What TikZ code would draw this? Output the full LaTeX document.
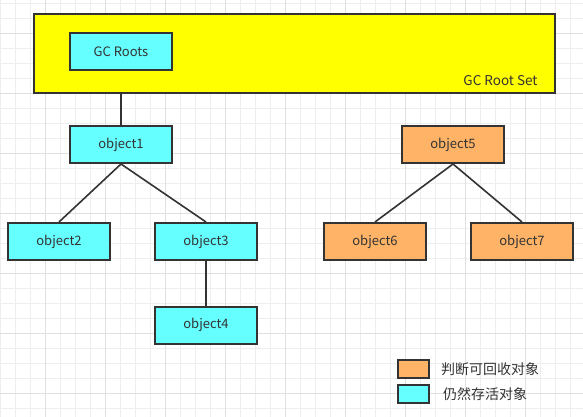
\documentclass[tikz,border=0pt]{standalone}
\usepackage{fontspec}
\setmainfont{Noto Sans CJK SC}
\usepackage{tikz}
\definecolor{edgegray}{HTML}{333333}
\definecolor{alivecyan}{HTML}{66FFFF}
\definecolor{deadorange}{HTML}{FFB366}
\definecolor{setyellow}{HTML}{FFFF00}
\definecolor{gridlight}{HTML}{EEEEEE}
\definecolor{griddark}{HTML}{E0E0E0}
\begin{document}
\begin{tikzpicture}[x=1pt,y=-1pt,
    obj/.style={draw=edgegray,line width=2pt,minimum width=102pt,minimum height=37pt,
      inner sep=0pt,text=edgegray,font=\fontsize{13}{15}\selectfont},
    alive/.style={obj,fill=alivecyan},
    dead/.style={obj,fill=deadorange},
    link/.style={draw=edgegray,line width=1.6pt},
    legendbox/.style={draw=edgegray,line width=2pt,minimum width=31pt,minimum height=18pt,inner sep=0pt},
    legendtext/.style={anchor=west,inner sep=0pt,text=edgegray,font=\fontsize{14}{16}\selectfont}]
  \useasboundingbox (0,0) rectangle (583,417);
  \fill[white] (0,0) rectangle (583,417);
  \foreach \x in {0,15,...,585} \draw[gridlight,line width=1pt] (\x+0.3,0) -- (\x+0.3,417);
  \foreach \y in {3,18,...,417} \draw[gridlight,line width=1pt] (0,\y+0.3) -- (583,\y+0.3);
  \foreach \x in {45,105,...,585} \draw[griddark,line width=1pt] (\x+0.3,0) -- (\x+0.3,417);
  \foreach \y in {33,93,...,417} \draw[griddark,line width=1pt] (0,\y+0.3) -- (583,\y+0.3);
  \node[draw=edgegray,line width=2pt,fill=setyellow,minimum width=520.5pt,minimum height=79.5pt,inner sep=0pt]
    (rootset) at (294.25,53.75) {};
  \node[alive] (roots) at (121,51.5) {GC Roots};
  \node[anchor=center,inner sep=0pt,text=edgegray,font=\fontsize{13.5}{15}\selectfont]
    (setlabel) at (500.5,81) {GC Root Set};
  \node[alive] (obj1) at (121,144.5) {object1};
  \node[alive] (obj2) at (59,241.5) {object2};
  \node[alive] (obj3) at (206,241.5) {object3};
  \node[alive] (obj4) at (206,325) {object4};
  \node[dead] (obj5) at (453,144.5) {object5};
  \node[dead] (obj6) at (375,241.5) {object6};
  \node[dead] (obj7) at (522,241.5) {object7};
  \draw[link] (obj1.north |- rootset.south) -- (obj1.north);
  \draw[link] (obj1.south) -- (obj2.north);
  \draw[link] (obj1.south) -- (obj3.north);
  \draw[link] (obj3.south) -- (obj4.north);
  \draw[link] (obj5.south) -- (obj6.north);
  \draw[link] (obj5.south) -- (obj7.north);
  \node[legendbox,fill=deadorange] (keydead) at (413.5,369) {};
  \node[legendbox,fill=alivecyan] (keyalive) at (413.5,394) {};
  \node[legendtext] (textdead) at (441,369) {判断可回收对象};
  \node[legendtext] (textalive) at (443,394) {仍然存活对象};
\end{tikzpicture}
\end{document}
